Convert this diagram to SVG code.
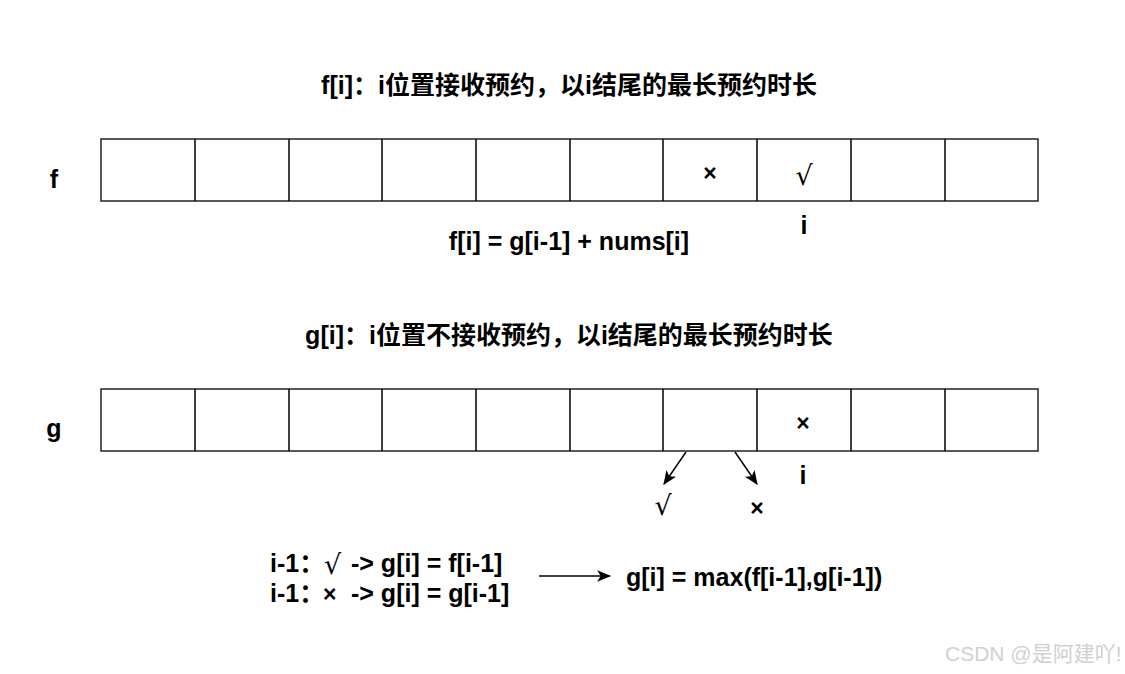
<svg xmlns="http://www.w3.org/2000/svg" width="1125" height="674" viewBox="0 0 1125 674">
<defs>
<style>
.t{font-family:"Liberation Sans","Noto Sans CJK SC",Arial,sans-serif;font-weight:bold;font-size:25px;fill:#000}
.c{text-anchor:middle}
.cell{fill:#fff;stroke:#222;stroke-width:1.5}
.sq{font-family:"DejaVu Serif","Liberation Serif",serif;font-weight:normal;font-size:27px;fill:#000}
.x{font-family:"Liberation Sans",Arial,sans-serif;font-weight:bold;font-size:23px;fill:#000}
.ln{stroke:#000;stroke-width:1.5;fill:none}
.wm{font-family:"Liberation Sans","Noto Sans CJK SC",sans-serif;font-size:21px;fill:#d0d0d0}
</style>
<marker id="ah" viewBox="0 0 12 10" refX="11" refY="5" markerWidth="14" markerHeight="12" markerUnits="userSpaceOnUse" orient="auto">
<path d="M0,0 L12,5 L0,10 L3,5 Z" fill="#000"/>
</marker>
</defs>
<rect width="1125" height="674" fill="#fff"/>

<g id="title-f"><text class="t c" x="569" y="94">f[i]：i位置接收预约，以i结尾的最长预约时长</text></g>

<g id="row-f">
<text class="t c" x="54" y="188">f</text>
<rect class="cell" x="101" y="139" width="937" height="62"/>
<path class="ln" stroke="#222" d="M195,139V201M289,139V201M382,139V201M476,139V201M570,139V201M663,139V201M757,139V201M851,139V201M945,139V201"/>
<text class="x c" x="710" y="181">×</text>
<text class="sq c" x="804" y="185">√</text>
<text class="t c" x="804" y="234">i</text>
</g>

<g id="eq-f"><text class="t c" x="569" y="250">f[i] = g[i-1] + nums[i]</text></g>

<g id="title-g"><text class="t c" x="569" y="344">g[i]：i位置不接收预约，以i结尾的最长预约时长</text></g>

<g id="row-g">
<text class="t c" x="54" y="437">g</text>
<rect class="cell" x="101" y="389" width="937" height="62"/>
<path class="ln" stroke="#222" d="M195,389V451M289,389V451M382,389V451M476,389V451M570,389V451M663,389V451M757,389V451M851,389V451M945,389V451"/>
<text class="x c" x="803" y="431">×</text>
<text class="t c" x="803" y="484">i</text>
<text class="sq c" x="663" y="515" font-size="21">√</text>
<text class="x c" x="757" y="516">×</text>
</g>

<g id="connectors">
<line class="ln" x1="686" y1="452" x2="664" y2="484" marker-end="url(#ah)"/>
<line class="ln" x1="735" y1="452" x2="757" y2="484" marker-end="url(#ah)"/>
<line class="ln" x1="539" y1="576" x2="610" y2="576" marker-end="url(#ah)"/>
</g>

<g id="rules">
<text class="t" x="270" y="572">i-1：<tspan class="sq" x="324" y="574">√</tspan><tspan x="351" y="572">-&gt; g[i] = f[i-1]</tspan></text>
<text class="t" x="270" y="602">i-1：<tspan class="x" x="323" y="602">×</tspan><tspan x="351" y="602">-&gt; g[i] = g[i-1]</tspan></text>
</g>

<g id="result"><text class="t" x="626" y="586">g[i] = max(f[i-1],g[i-1])</text></g>

<text class="wm" x="945" y="661">CSDN @是阿建吖!</text>
</svg>
